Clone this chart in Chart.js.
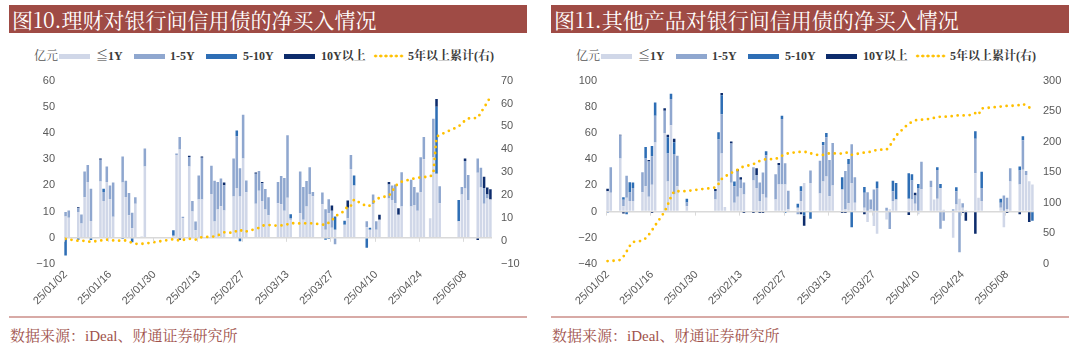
<!DOCTYPE html>
<html lang="zh-CN">
<head>
<meta charset="UTF-8">
<title>理财与其他产品对银行间信用债的净买入情况</title>
<script src="https://cdn.jsdelivr.net/npm/chart.js@4"></script>
<style>
  body { margin: 0; width: 1080px; height: 353px; background: #fff; position: relative; overflow: hidden;
         font-family: 'Liberation Serif', 'Noto Serif CJK SC', 'Noto Sans CJK SC', serif; }
  .panel { position: absolute; top: 0; width: 540px; height: 353px; }
  .title { position: absolute; left: 9px; top: 5px; width: 518px; height: 28px; background: #9F4B45; color: #fff;
           font-size: 21px; line-height: 28px; padding-left: 3px; box-sizing: border-box;
           font-family: 'Noto Serif CJK SC', 'Noto Sans CJK SC', serif; white-space: nowrap; }
  .legend { position: absolute; top: 49px; left: 0; width: 540px; height: 14px; font-size: 12px; font-weight: bold; color: #3a3a3a; }
  .legend span { position: absolute; top: 0; line-height: 14px; white-space: nowrap; }
  .legend i { position: absolute; top: 5px; height: 5px; width: 31px; }
  .legend .dots { height: 4px; top: 5px; width: 31px;
                  background: radial-gradient(circle, #FFC000 1.3px, transparent 1.7px) 0 0 / 5.2px 4px repeat-x; }
  .box { position: absolute; left: 0; top: 65px; }
  .rule { position: absolute; left: 9px; top: 316px; width: 518px; height: 2px; background: #D8AAA6; }
  .source { position: absolute; left: 10px; top: 327px; font-size: 15px; line-height: 18px; color: #A0524B; white-space: nowrap; }
</style>
</head>
<body>

<div class="panel" style="left:0">
  <div class="title">图10.理财对银行间信用债的净买入情况</div>
  <div class="legend">
    <span style="left:34px;font-weight:normal;color:#555">亿元</span>
    <i style="left:59px;background:#D0D7E8"></i><span style="left:96px">≦1Y</span>
    <i style="left:134px;background:#8FA7CF"></i><span style="left:170px">1-5Y</span>
    <i style="left:206px;background:#2E6EB5"></i><span style="left:243px">5-10Y</span>
    <i style="left:284px;background:#0D2C6C"></i><span style="left:321px">10Y以上</span>
    <i class="dots" style="left:373px"></i><span style="left:408px">5年以上累计(右)</span>
  </div>
  <div class="box"><canvas id="c1" width="540" height="250"></canvas></div>
  <div class="rule"></div>
  <div class="source">数据来源：iDeal、财通证券研究所</div>
</div>

<div class="panel" style="left:542px">
  <div class="title">图11.其他产品对银行间信用债的净买入情况</div>
  <div class="legend">
    <span style="left:34px;font-weight:normal;color:#555">亿元</span>
    <i style="left:59px;background:#D0D7E8"></i><span style="left:96px">≦1Y</span>
    <i style="left:134px;background:#8FA7CF"></i><span style="left:170px">1-5Y</span>
    <i style="left:206px;background:#2E6EB5"></i><span style="left:243px">5-10Y</span>
    <i style="left:284px;background:#0D2C6C"></i><span style="left:321px">10Y以上</span>
    <i class="dots" style="left:373px"></i><span style="left:408px">5年以上累计(右)</span>
  </div>
  <div class="box"><canvas id="c2" width="540" height="250"></canvas></div>
  <div class="rule"></div>
  <div class="source">数据来源：iDeal、财通证券研究所</div>
</div>

<script>
// trading days (interbank), the x axis itself runs over every calendar day
const tradeDays = [
  '25/01/02','25/01/03','25/01/06','25/01/07','25/01/08','25/01/09','25/01/10','25/01/13','25/01/14','25/01/15','25/01/16','25/01/17','25/01/20','25/01/21','25/01/22','25/01/23','25/01/24','25/01/26','25/01/27',
  '25/02/05','25/02/06','25/02/07','25/02/08','25/02/10','25/02/11','25/02/12','25/02/13','25/02/14','25/02/17','25/02/18','25/02/19','25/02/20','25/02/21','25/02/24','25/02/25','25/02/26','25/02/27','25/02/28',
  '25/03/03','25/03/04','25/03/05','25/03/06','25/03/07','25/03/10','25/03/11','25/03/12','25/03/13','25/03/14','25/03/17','25/03/18','25/03/19','25/03/20','25/03/21','25/03/24','25/03/25','25/03/26','25/03/27','25/03/28',
  '25/03/31','25/04/01','25/04/02','25/04/03','25/04/07','25/04/08','25/04/09','25/04/10','25/04/11','25/04/14','25/04/15','25/04/16','25/04/17','25/04/18','25/04/21','25/04/22','25/04/23','25/04/24','25/04/25',
  '25/04/27','25/04/28','25/04/29','25/04/30','25/05/06','25/05/07','25/05/08','25/05/09','25/05/12','25/05/13','25/05/14','25/05/15','25/05/16'
];

// 图10 理财 (亿元)
const wmpLe1Y = [
  8.1, 7.7, 9.8, 5.5, 15.5, 21.3, 6.4, 21.5, 14, 21.3, 14.8, 8, 21.1, 15.6, 8.6, 3.6, 13, 0.5, 27.2,
  0.8, 31.6, 33.7, 7.5, 27.2, 10, 2.9, 14.6, 14.6, 16.7, 6.2, 10.8, 12, 10.4, 15.8, 19, 15.8, 30.3, 17.4,
  13, 18, 14, 10.8, 8.6, 13.2, 12.8, 10.3, 15.3, 6.9, 9.4, 6.9, 11.9, 16.7, 15.9, 12.8, 3.1, 9.4, 3.8, 3.1,
  5, 7.5, 26.3, 20, 4, 3.1, 12.8, 3.1, 6.9, 15, 14.4, 13.2, 8.8, 11.9, 11.9, 12.5, 10.3, 17.5, 30,
  7.5, 30.7, 24.4, 13.2, 6.3, 16.5, 18.8, 14.4, 24.8, 19.2, 13, 15, 14.6
];
const wmp1to5Y = [
  1.7, 2.7, 1.5, 3.4, 9.8, 6.5, 12.3, 8.3, 3.5, 5.9, 5.2, 13.1, 9.9, 6.2, 8.5, 6, 2.5, 0, 6.9,
  0, 0.6, 4.8, 0.5, 3.6, 4, 3.3, 9.2, 16, 10.8, 15.6, 10.5, 10.6, 9.7, 14.5, 19.8, 10.7, 16.7, 4.5,
  11.4, 7.5, 6.8, 7.8, 6.9, 8.1, 10.8, 12.5, 23.8, 0.6, 15.9, 12.5, 9.8, 10.2, 1.6, 4.5, 7.8, 5.3, 6.5, -2.5,
  0, 4, 5.3, 0, 2.3, 0, 3.7, 3.2, 0, 5.3, 5.6, 7.1, 0, 13.1, 10.3, 6.9, 7, 13.2, 8.5,
  0, 14.7, 0, 6.5, 0, 2.9, 10.5, 9.6, 5.5, 7.5, 6, 1.5, 0
];
const wmp5to10Y = [
  -6.8, 0, -0.7, 0, 0, 0, -0.8, 0, 1.2, 0, 0, 0, -0.5, 0, 0, -1.7, 0, 0, 0,
  2.1, 0, 0, 0, 0, 0, 0, 0, 0, 0, 0, 0, 0, 0, -0.3, 2.2, -1.3, 0, 0,
  0, 0, 0, 0, 0, 0, 0, 0, 0, 1.5, 0, 0, 0, 0, 0, 0, -0.7, -0.5, 0, 5,
  1.5, 0, 0, 3.8, -3.8, 0.7, 0, 0, 0, 0, 0, 0, 0, 0, 0, 0, 0, 0, 0,
  0, 0, 25.6, 0, 8.1, 0, 0, 0, 0, 0, 0, 0, 0
];
const wmpOver10Y = [
  0, 0, 0.4, 0, 0, 0, 0, 0.5, 0, 0, 0, 0, 0, 0, 0, 0, 0, 0, 0,
  0, 0, -0.7, 0, 0.5, 0, 0, 0, 0.4, 0, 0, 0, 0, 1, 0, 0, 0, 0, 0,
  0.5, 0, 0.5, 0, 0, 0, 0, 0, 0, 0, 0, 0, 0, 0, 0, 0, 0, 0, 2, 0,
  0, 2.7, 0, 0, 0, 0, 0, 0, 1.9, 1, 0, 0, 2.5, 0, 0, 0, 0, 0, 0,
  0, 0, 3, 0, 0, 0, 1, 0, -0.8, 0, 4.3, 2.7, 3.9
];
const wmpCum5Y = [
  1.0, 0.7, 0.1, 0.1, 0.1, -0.2, -0.3, 0.2, 0.5, 0.6, 0.4, 0.3, 0.1, 0.3, -0.2, -0.8, -1.2, -1.2, -1.1,
  0.8, 0.4, 0.3, 0.5, 1.0, 0.8, 0.6, 1.4, 1.7, 1.9, 2.0, 2.5, 3.0, 3.8, 3.6, 4.5, 5.0, 4.0, 4.2,
  5.3, 5.8, 6.7, 6.9, 7.0, 6.7, 6.8, 7.0, 7.3, 7.8, 7.7, 7.7, 7.8, 7.8, 7.7, 7.2, 7.0, 8.0, 8.9, 10.8,
  13.1, 15.4, 15.4, 18.1, 15.1, 15.5, 16.9, 18.3, 18.8, 19.8, 21.5, 24.0, 25.0, 25.9, 27.0, 27.3, 27.6, 27.8, 27.9,
  28.1, 29.5, 45.5, 46.3, 50.0, 51.3, 52.6, 53.5, 53.7, 56.0, 58.3, 60.4, 63.0
];

// 图11 其他产品 (亿元)
const othLe1Y = [
  15.5, 14.3, 40.6, 4, 10.5, 8, 8, 14.8, 19.3, 11.3, 20.5, 52.7, 60, 23, 66, 13, 19.3, 0, 4,
  9.3, 23, 44.4, 3.5, 22, 6.8, 11.3, 18, 13, 23.8, 18, 8, 13.5, 10.5, 9.3, 20.6, 20.6, 20.6, 1.7,
  3, 8, 21.8, 0, 21.8, 13.8, 23, 26.8, 11.8, 20, 16.8, 2, 6.3, 21.8, 6.8, 3, -8, 1.8, -11, -17,
  -6, 1.8, 8, 9.3, 9.8, 9.3, 6, -2, 17.3, 18.8, 9.3, 9.8, 18, 1.5, -20, 5.5, 9.8, 3, 1,
  0, 29.3, 10.5, 8, 3, -12, 2, 23, 20.6, 32, 28, 23.2, 20.7
];
const oth1to5Y = [
  -1, 19.5, 17.5, 5, 16.8, 6.5, 10, 15.3, 21.3, 27, 21.8, 20.5, 17, 21.3, 20, 31, 23.3, 0, 3,
  6.5, 32, 30, 0, 30, 12.5, 19.3, 6.3, 9.3, 10, 10, 14.3, 16.3, 32.5, 19.3, 15, 50, 16.3, 14.3,
  -2, 7.5, 0, 0, 9.5, 25, 27.6, 30, 27.6, 32.3, 0, 29, 30, 29.6, 19.5, 11.3, 14.8, 7.5, 16.8, 18,
  3, -13.3, 7.5, 0, 0, 14.5, 6.3, 18, 20.8, 4.8, 0, 22, -13, -7, 1.8, 10, -31, 3.3, 0,
  0, 26.3, 0, 10, 3.8, 12.3, 8.5, 10, 10.8, 22.5, 3, 0, 0
];
const oth5to10Y = [
  0, 0, 0, 2, -2, 8, 4.3, 0, 8.8, 0, 7.8, 10, 0, 12.5, 4, 9, 0, 0, 2.8,
  0, 5.5, 14.5, 0, 0, 3.7, 0, 0, 0, 0, 0, 0, 0, 3, 0, 0, 2.5, -1, 0,
  3, 3.8, -3, 0, -5.5, 0, 2.5, 3.2, 0, 0, 9.5, 0, 3.8, -12, 0, 4.5, 0, 0, 0, 5,
  0, 0, 8, 12.5, 19.5, 4.8, 0, 3, 0, 0, 0, 2, 3, 0, 0, 3, 0, 0, 0,
  0, 5.8, 0, 12.5, 3, 0, 0, 0, 3, 3, 0, 0, -7
];
const othOver10Y = [
  2, 0, 0.5, -1.5, 0, 0, 0, 0, 0, 1, -1, 0, 1.8, 1.8, 0, 2.6, 0, 0, 0,
  1.5, 0, 1.7, 0, 1.5, 0, 1.8, 2, -1, -1, 5, -1, -1, 0, 0, 1.5, 0, 0, 0,
  0, -2, -7.8, 0, 0, 0, 0, 0, 0, 0, -1, -1, 0, 0, 0, -2, 0, 0, 0, 0,
  0, 0, 0, 0, -2.5, 0, 2, 0, 0, 0, 0, 0, 0, 0, 0, 0, 0, -1, -7,
  0, -17, 0, 0, 0, 0, -1, 0, -2, 0, 0, -8, 0
];
const othCum5Y = [
  4.8, 4.8, 6.5, 12, 20.4, 29.6, 36, 38, 42, 47.8, 55, 63, 85.5, 97, 110, 118.8, 119, 119, 119.5,
  125, 131, 139, 143, 149, 151.5, 154, 157.6, 159.5, 163, 167, 168.5, 170, 171.5, 171.5, 174.5, 177, 179.5, 181,
  183.4, 183.2, 183, 183.4, 181, 177.5, 178.5, 180, 181, 181, 180.6, 182, 182.3, 178.5, 179.5, 182.3, 183, 183.4, 185, 187,
  187, 193, 201, 210, 230, 232, 235, 236, 236, 237.5, 239, 240.5, 240.8, 240.8, 242, 243, 243, 243, 243,
  244, 246.8, 244, 254.5, 257.5, 258.5, 258.5, 258.5, 260, 262, 259, 256, 255
];

const seriesNames = ['≦1Y', '1-5Y', '5-10Y', '10Y以上'];
const seriesColors = ['#D0D7E8', '#8FA7CF', '#2E6EB5', '#0D2C6C'];
const lineName = '5年以上累计(右)';

// calendar axis 25/01/02 .. 25/05/16
const days = [];
for (let d = new Date(2025, 0, 2); d <= new Date(2025, 4, 16); d.setDate(d.getDate() + 1)) {
  const p = n => String(n).padStart(2, '0');
  days.push('25/' + p(d.getMonth() + 1) + '/' + p(d.getDate()));
}

function onCalendar(vals) {
  const out = days.map(() => null);
  tradeDays.forEach((t, i) => {
    const k = days.indexOf(t);
    if (k >= 0 && vals[i] !== 0) out[k] = vals[i];
  });
  return out;
}

const tickFont = { family: "'Liberation Sans', Arial, sans-serif", size: 11 };
const minus = v => String(v).replace('-', '\u2212');

// small tick marks on the zero line at each dated label
const zeroTicks = {
  id: 'zeroTicks',
  afterDatasetsDraw(chart) {
    const x = chart.scales.x, y = chart.scales.y, ctx = chart.ctx;
    const y0 = y.getPixelForValue(0);
    ctx.save();
    ctx.strokeStyle = '#D9D9D9';
    ctx.lineWidth = 1;
    for (let i = 0; i < days.length; i += 14) {
      const px = Math.round(x.getPixelForValue(i) - x.width / days.length / 2) + 0.5;
      ctx.beginPath();
      ctx.moveTo(px, y0);
      ctx.lineTo(px, y0 + 4);
      ctx.stroke();
    }
    ctx.restore();
  }
};

// safety net: if a value-axis label did not come out, write it again at the scale's own spot
const axisLabelCheck = {
  id: 'axisLabelCheck',
  afterDraw(chart) {
    const ctx = chart.ctx;
    ['y', 'y1'].forEach(id => {
      const s = chart.scales[id];
      s.getLabelItems(chart.chartArea).forEach(it => {
        const [tx, ty] = it.options.translation;
        const w = ctx.measureText(it.label).width || 14;
        const x0 = it.options.textAlign === 'right' ? tx - 16 : tx;
        const px = ctx.getImageData(Math.max(0, Math.round(x0)), Math.max(0, Math.round(ty) - 5), 16, 10).data;
        let ink = 0;
        for (let k = 3; k < px.length; k += 4) if (px[k] > 60) ink++;
        if (ink < 3) {
          ctx.save();
          ctx.font = it.font.string;
          ctx.fillStyle = it.options.color;
          ctx.textAlign = it.options.textAlign;
          ctx.textBaseline = 'middle';
          ctx.fillText(it.label, tx, ty);
          ctx.restore();
        }
      });
    });
  }
};

function makeChart(id, bars, cum, left, right) {
  const datasets = [{
    type: 'line',
    label: lineName,
    data: onCalendar(cum),
    yAxisID: 'y1',
    borderColor: '#FFC000',
    borderWidth: 2.8,
    borderDash: [0, 6],
    borderCapStyle: 'round',
    pointRadius: 0,
    spanGaps: true,
    tension: 0,
    order: 0
  }];
  bars.forEach((vals, i) => {
    datasets.push({
      type: 'bar',
      label: seriesNames[i],
      data: onCalendar(vals),
      backgroundColor: seriesColors[i],
      yAxisID: 'y',
      stack: 's',
      barPercentage: 0.8,
      categoryPercentage: 1,
      order: 1
    });
  });

  new Chart(document.getElementById(id), {
    data: { labels: days, datasets: datasets },
    plugins: [zeroTicks, axisLabelCheck],
    options: {
      responsive: false,
      animation: false,
      layout: { padding: { top: 12, left: 0, right: 0, bottom: 0 } },
      plugins: { legend: { display: false }, tooltip: { enabled: false } },
      scales: {
        x: {
          stacked: true,
          grid: { display: false, drawTicks: false },
          border: { display: false },
          afterFit: s => { s.height = 51; },
          ticks: {
            autoSkip: false,
            minRotation: 45,
            maxRotation: 45,
            padding: 4,
            color: '#595959',
            font: tickFont,
            callback: function (v, i) { return i % 14 === 0 ? this.getLabelForValue(v) : ''; }
          }
        },
        y: {
          position: 'left',
          stacked: true,
          min: left[0], max: left[1],
          afterFit: s => { s.width = 64; },
          border: { display: false },
          grid: {
            drawTicks: false,
            lineWidth: 1.5,
            color: c => (c.tick && c.tick.value === 0 ? '#D9D9D9' : 'rgba(0,0,0,0)')
          },
          ticks: { stepSize: left[2], padding: 9, color: '#595959', font: tickFont, callback: minus }
        },
        y1: {
          position: 'right',
          min: right[0], max: right[1],
          afterFit: s => { s.width = 48; },
          border: { display: false },
          grid: { display: false, drawTicks: false },
          ticks: { stepSize: right[2], padding: 9, color: '#595959', font: tickFont, callback: minus }
        }
      }
    }
  });
}

makeChart('c1', [wmpLe1Y, wmp1to5Y, wmp5to10Y, wmpOver10Y], wmpCum5Y, [-10, 60, 10], [-10, 70, 10]);
makeChart('c2', [othLe1Y, oth1to5Y, oth5to10Y, othOver10Y], othCum5Y, [-40, 100, 20], [0, 300, 50]);
</script>
</body>
</html>
